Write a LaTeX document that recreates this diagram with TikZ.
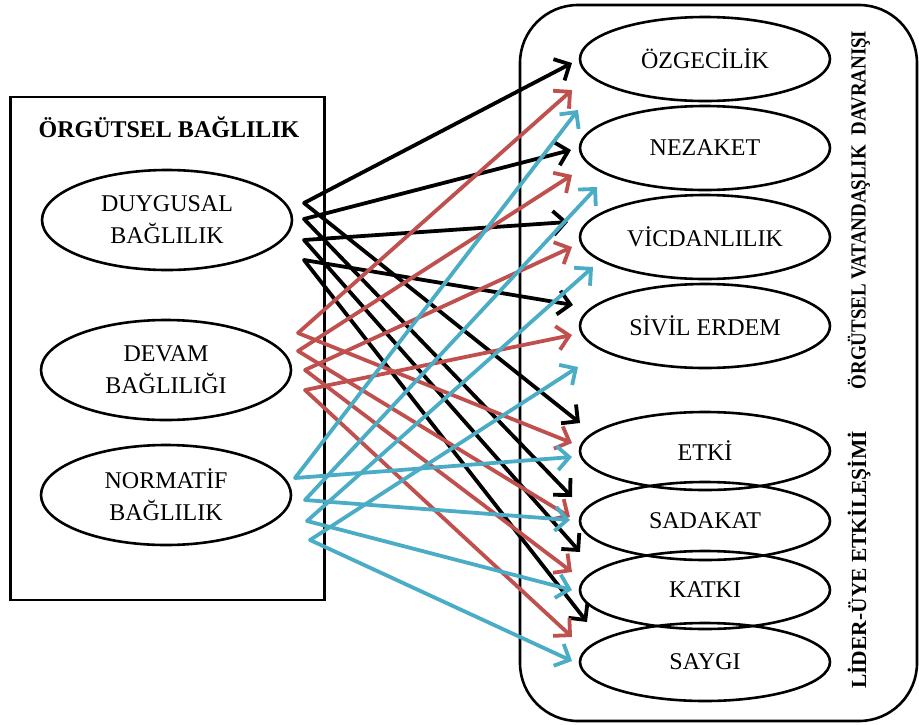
\documentclass[tikz,border=0pt]{standalone}
\usepackage{fontspec}
\setmainfont{Liberation Serif}
\usetikzlibrary{shapes.geometric,arrows.meta}
\definecolor{arrred}{HTML}{C0504D}
\definecolor{arrblue}{HTML}{4BACC6}
\begin{document}
\begin{tikzpicture}[x=1pt,y=-1pt,
  ell/.style={draw, ellipse, line width=2.6pt, inner sep=0pt,
    font=\fontsize{24}{32}\selectfont, align=center},
  lell/.style={ell, minimum width=250pt, minimum height=100pt},
  rellA/.style={ell, minimum width=250pt, minimum height=84pt},
  rellB/.style={ell, minimum width=250pt, minimum height=78pt},
  conn/.style={line width=3.8pt, line cap=round,
    -{Straight Barb[length=12pt,width=24pt,line join=miter]}},
  blk/.style={conn, black},
  rd/.style={conn, arrred},
  bl/.style={conn, arrblue},
  vlabel/.style={rotate=90, font=\fontsize{21.5}{24}\selectfont\bfseries}
]
\useasboundingbox (0,0) rectangle (919,724);

% frames
\node[draw, line width=2.6pt, minimum width=314pt, minimum height=503pt, inner sep=0pt] (lbox) at (167.5,348.5) {};
\draw[line width=2.6pt, rounded corners=58pt] (520,5) rectangle (917,721);
\node[font=\fontsize{24}{28}\selectfont\bfseries] (ltitle) at (169,127) {ÖRGÜTSEL BAĞLILIK};

% left ellipses
\node[lell] (duy) at (167,220) {DUYGUSAL\\BAĞLILIK};
\node[lell] (dev) at (166,370) {DEVAM\\BAĞLILIĞI};
\node[lell] (nor) at (166,495) {NORMATİF\\BAĞLILIK};

% right ellipses
\node[rellA] (ozg) at (705,59) {ÖZGECİLİK};
\node[rellA] (nez) at (705,148) {NEZAKET};
\node[rellA] (vic) at (705,237) {VİCDANLILIK};
\node[rellA] (siv) at (705,326) {SİVİL ERDEM};
\node[rellB] (etk) at (705,451) {ETKİ};
\node[rellB] (sad) at (705,521) {SADAKAT};
\node[rellB] (kat) at (705,590) {KATKI};
\node[rellB] (say) at (705,662) {SAYGI};

% vertical labels
\node[vlabel] (ovd) at (859,210) {\scalebox{0.88}[1]{ÖRGÜTSEL VATANDAŞLIK\ \ DAVRANIŞI}};
\node[vlabel] (lmx) at (859,560) {LİDER-ÜYE ETKİLEŞİMİ};

% start points
\coordinate (b1) at (304,203);
\coordinate (b2) at (304,219);
\coordinate (b3) at (304,240);
\coordinate (b4) at (304,260);
\coordinate (r1) at (298,333);
\coordinate (r2) at (298,351);
\coordinate (r3) at (305,370);
\coordinate (r4) at (305,390);
\coordinate (u1) at (295,478);
\coordinate (u2) at (305,500);
\coordinate (u3) at (307,521);
\coordinate (u4) at (310,540);

% end points
\coordinate (bo1) at (572,63);
\coordinate (bo2) at (571,150);
\coordinate (bo3) at (568,222);
\coordinate (bo4) at (573,305);
\coordinate (bl1) at (580,423);
\coordinate (bl2) at (572,497);
\coordinate (bl3) at (580,552);
\coordinate (bl4) at (587,622);
\coordinate (ro1) at (572,90);
\coordinate (ro2) at (572,175);
\coordinate (ro3) at (572,247);
\coordinate (ro4) at (572,335);
\coordinate (rl1) at (572,443);
\coordinate (rl2) at (570,517);
\coordinate (rl3) at (572,572);
\coordinate (rl4) at (572,637);
\coordinate (uo1) at (578,110);
\coordinate (uo2) at (597,187);
\coordinate (uo3) at (593,267);
\coordinate (uo4) at (578,367);
\coordinate (ul1) at (572,457);
\coordinate (ul2) at (570,520);
\coordinate (ul3) at (572,590);
\coordinate (ul4) at (572,661);

% arrows
\foreach \i in {1,2,3,4}{
  \draw[blk] (b\i) -- (bo\i);
  \draw[blk] (b\i) -- (bl\i);
}
\foreach \i in {1,2,3,4}{
  \draw[rd] (r\i) -- (ro\i);
  \draw[rd] (r\i) -- (rl\i);
}
\foreach \i in {1,2,3,4}{
  \draw[bl] (u\i) -- (uo\i);
  \draw[bl] (u\i) -- (ul\i);
}
\end{tikzpicture}
\end{document}
